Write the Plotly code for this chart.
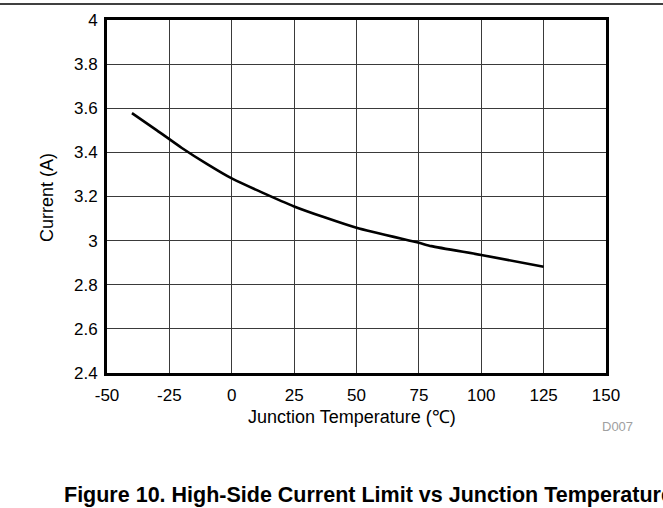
import plotly.graph_objects as go

temperature_c = [-40, -30, -20, -10, 0, 25, 50, 75, 80, 100, 125]
current_a = [3.578, 3.50, 3.42, 3.348, 3.282, 3.155, 3.058, 2.99, 2.975, 2.935, 2.882]

x_ticks = [-50, -25, 0, 25, 50, 75, 100, 125, 150]
y_ticks = [2.4, 2.6, 2.8, 3, 3.2, 3.4, 3.6, 3.8, 4]
y_tick_labels = ["2.4", "2.6", "2.8", "3", "3.2", "3.4", "3.6", "3.8", "4"]

FONT = "Liberation Sans, Arial, sans-serif"

fig = go.Figure()
fig.add_trace(go.Scatter(
    x=temperature_c, y=current_a, mode="lines",
    line=dict(color="black", width=2.6, shape="spline", smoothing=0.6),
    showlegend=False, hoverinfo="skip",
))

W, H = 663, 508
L, R, T, B = 107, 606, 20, 373

fig.update_layout(
    width=W, height=H,
    margin=dict(l=L, r=W - R, t=T, b=H - B),
    paper_bgcolor="white", plot_bgcolor="white",
    font=dict(family=FONT, color="black", size=17),
)
fig.update_xaxes(
    range=[-50, 150], tickvals=x_ticks, ticktext=[str(v) for v in x_ticks],
    showgrid=True, gridcolor="#3a3a3a", gridwidth=1,
    showline=True, linecolor="black", linewidth=3, mirror=True,
    zeroline=False, ticks="", ticklabelstandoff=5,
    tickfont=dict(size=17, family=FONT),
)
fig.update_yaxes(
    range=[2.4, 4], tickvals=y_ticks, ticktext=y_tick_labels,
    showgrid=True, gridcolor="#3a3a3a", gridwidth=1,
    showline=True, linecolor="black", linewidth=3, mirror=True,
    zeroline=False, ticks="", ticklabelstandoff=3,
    tickfont=dict(size=17, family=FONT),
)

pw, ph = R - L, B - T

def px(xp):
    return (xp - L) / pw

def py(yp):
    return (B - yp) / ph

# top rule line
fig.add_shape(type="line", xref="paper", yref="paper",
              x0=px(0), x1=px(W), y0=py(4), y1=py(4),
              line=dict(color="black", width=1.6))

fig.add_annotation(xref="paper", yref="paper", x=px(47), y=py(198),
                   text="Current (A)", textangle=-90, showarrow=False,
                   font=dict(size=18, family=FONT), xanchor="center", yanchor="middle")
fig.add_annotation(xref="paper", yref="paper", x=px(352), y=py(417),
                   text="Junction Temperature (℃)", showarrow=False,
                   font=dict(size=18, family=FONT), xanchor="center", yanchor="middle")
fig.add_annotation(xref="paper", yref="paper", x=px(617), y=py(426),
                   text="D007", showarrow=False,
                   font=dict(size=13, family=FONT, color="#a0a0a0"),
                   xanchor="center", yanchor="middle")
fig.add_annotation(xref="paper", yref="paper", x=px(62), y=py(495),
                   text="<b>Figure 10. High-Side Current Limit vs Junction Temperature</b>",
                   showarrow=False, font=dict(size=21.5, family=FONT),
                   xanchor="left", yanchor="middle")

fig.write_html(
    "out.html",
    config={"displayModeBar": False},
    post_script="document.body.style.margin='0px';document.body.style.padding='0px';"
                "document.body.style.overflow='hidden';",
)
